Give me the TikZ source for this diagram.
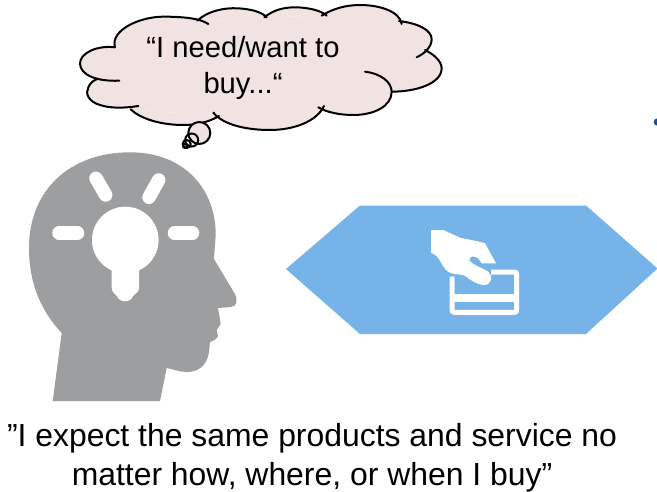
\documentclass[tikz,border=0pt]{standalone}
\usepackage{fontspec}
\setmainfont{Liberation Sans}
\definecolor{headgray}{HTML}{9D9EA0}
\definecolor{hexblue}{HTML}{75B3E8}
\definecolor{cloudpink}{HTML}{F2E3E3}
\definecolor{dotblue}{HTML}{1F4E96}
\tikzset{
  cloudline/.style={draw=black,line width=2pt,line cap=round},
  raystroke/.style={draw=white,line width=13.5pt,line cap=round},
  cardstroke/.style={draw=white,line width=5pt,line join=round,rounded corners=2pt},
  bigtext/.style={font=\fontsize{31.9}{38.5}\selectfont,align=center,text=black,inner sep=0pt},
  cloudtext/.style={font=\fontsize{29.2}{36}\selectfont,align=center,text=black,inner sep=0pt}
}
\begin{document}
\begin{tikzpicture}[x=1pt,y=-1pt]
\useasboundingbox (0,0) rectangle (657,491);
% head
\fill[headgray] (52.7,401) -- (61.7,333)
  .. controls (42,312) and (29,285) .. (29,248)
  .. controls (29,190) and (70,152.3) .. (130,152.3)
  .. controls (185,152.3) and (216,190) .. (215.7,235)
  -- (214,259) -- (235,294)
  .. controls (238,301) and (237,306) .. (231,307)
  -- (218,308) -- (220.7,324) -- (216.7,330) -- (218,336)
  .. controls (217,339) and (213,341) .. (210,342)
  -- (209,352) .. controls (207,366) and (198,372) .. (186.7,372)
  .. controls (180,372) and (172,369) .. (166.7,368)
  -- (160,401) -- cycle;
% bulb
\fill[white] (125.3,240) circle (33.3);
\fill[white] (111.7,262) -- (111.7,288)
  .. controls (112,293) and (115,293) .. (117,296)
  .. controls (119,303) and (131,303) .. (133,296)
  .. controls (135,293) and (139,293) .. (139,288)
  -- (139,262) -- cycle;
\draw[raystroke] (59,233) -- (77.5,233);
\draw[raystroke] (174.5,233) -- (192.5,233);
\draw[raystroke] (96,178.3) -- (105.7,195);
\draw[raystroke] (158.7,180) -- (149,197.3);
% thought cloud
\begin{scope}[shift={(60,0)},scale=1/3]
\fill[cloudpink] (165,142) -- (412,62) -- (613,52) -- (785,47) -- (1017,63) -- (1095,150) -- (995,275) -- (792,325) -- (477,348) -- (212,328) -- (115,236) -- cycle;
\def\cloudlobes{
  (178,242) .. controls (110,245) and (60,225) .. (60,190) .. controls (60,160) and (110,135) .. (165,142)
  (165,142) .. controls (150,90) and (240,50) .. (310,50) .. controls (370,50) and (420,55) .. (445,72)
  (412,62) .. controls (440,35) and (490,22) .. (535,25) .. controls (570,27) and (605,35) .. (620,52)
  (613,52) .. controls (640,30) and (670,22) .. (705,22) .. controls (745,22) and (785,32) .. (800,47)
  (785,47) .. controls (820,25) and (860,15) .. (900,15) .. controls (960,15) and (1020,35) .. (1025,72)
  (1017,63) .. controls (1075,70) and (1115,90) .. (1115,118) .. controls (1115,140) and (1095,160) .. (1070,172)
  (1095,150) .. controls (1125,165) and (1145,185) .. (1145,205) .. controls (1145,250) and (1070,275) .. (995,275)
  (915,215) .. controls (960,220) and (995,245) .. (995,275) .. controls (995,320) and (940,345) .. (880,345) .. controls (840,345) and (800,337) .. (775,322)
  (792,318) .. controls (770,365) and (700,390) .. (630,390) .. controls (560,390) and (490,375) .. (460,338)
  (477,348) .. controls (450,365) and (410,375) .. (370,375) .. controls (300,375) and (240,355) .. (212,328)
  (235,318) .. controls (190,325) and (150,325) .. (120,315) .. controls (85,305) and (75,280) .. (85,262) .. controls (90,250) and (100,240) .. (115,236)
}
\fill[cloudpink] \cloudlobes;
\draw[cloudline] \cloudlobes;
\end{scope}
\draw[cloudline,fill=cloudpink] (199.3,133) circle (11);
\draw[cloudline] (191.7,140) circle (6.5);
\draw[cloudline] (186.7,144) circle (4);
\draw[cloudline] (185,146) circle (2);
\node[cloudtext] (thought) at (243,68) {“I need/want to\\buy...“};
% hexagon
\fill[hexblue] (286,269) -- (360,205.5) -- (586,205.5) -- (657.5,268.5) -- (586,334) -- (360,334) -- cycle;
% hand and card
\draw[cardstroke] (491,272) -- (516.7,272) -- (516.7,312.3) -- (452,312.3) -- (452,276.5);
\draw[draw=white,line width=8pt] (452,298.3) -- (516.7,298.3);
\fill[white] (431,230) -- (443.3,230) -- (460,237.7)
  .. controls (470,240) and (478,241) .. (485,243.3)
  -- (496,263.3) -- (481.7,263.3) -- (478.3,258.3)
  .. controls (474,256) and (470,255) .. (469.3,260)
  .. controls (472,265) and (483,268) .. (488.3,271.7)
  .. controls (493,276) and (492,284) .. (485,285)
  .. controls (476,285) and (470,279) .. (463.3,275)
  .. controls (455,274) and (450,274) .. (446,270)
  .. controls (441,265) and (440,256) .. (431,252.7) -- cycle;
% dot
\begin{scope}
\clip (0,0) rectangle (657,491);
\fill[dotblue] (657.5,122) circle (3.8);
\end{scope}
\node[bigtext] (quote) at (312,457.5) {”I expect the same products and service no\\matter how, where, or when I buy”};
\end{tikzpicture}
\end{document}
